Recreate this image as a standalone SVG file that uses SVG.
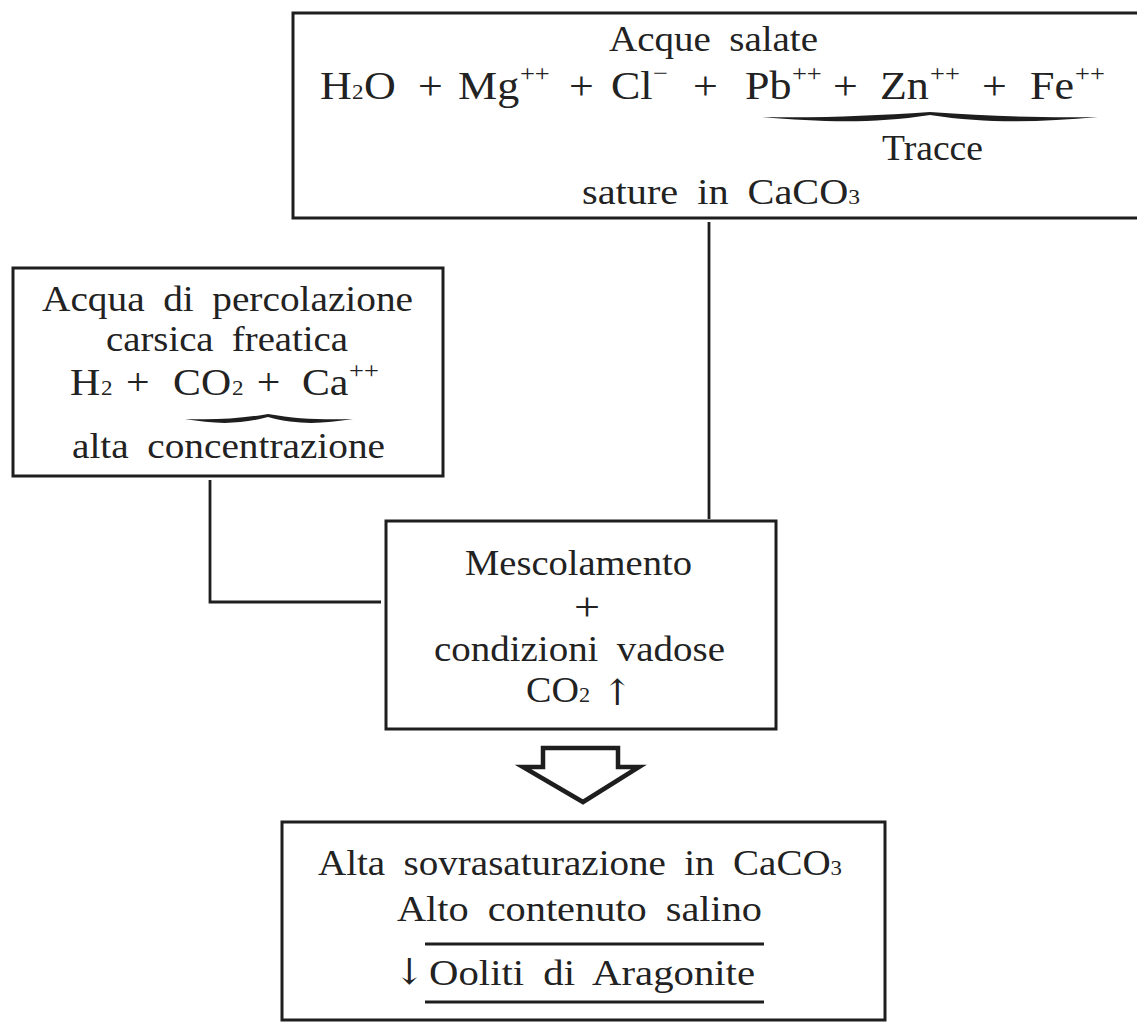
<svg xmlns="http://www.w3.org/2000/svg" width="1137" height="1023" viewBox="0 0 1137 1023">
<style>
.bg{fill:#ffffff}
.box{fill:none;stroke:#1e1e1e;stroke-width:3}
.ln{fill:none;stroke:#1e1e1e;stroke-width:2.8}
.t{font-family:"Liberation Serif","DejaVu Serif",serif;font-size:36px;fill:#222;word-spacing:8px}
.f{font-family:"Liberation Serif","DejaVu Serif",serif;font-size:40px;fill:#222}
.s{font-size:21px}
.p{font-size:24px}
.brace{fill:#1e1e1e;stroke:none}
.arr{fill:#fff;stroke:#1e1e1e;stroke-width:4.5;stroke-linejoin:miter}
.sym{font-family:"DejaVu Serif","Liberation Serif",serif;font-size:36px;fill:#222}
</style>
<rect class="bg" x="0" y="0" width="1137" height="1023"/>

<g id="top-box">
  <path class="box" d="M1137,13 H293 V218 H1137"/>
  <text class="t" x="609" y="51" textLength="209" lengthAdjust="spacingAndGlyphs">Acque salate</text>
  <text class="f" y="99" transform="scale(1.1 1)">
    <tspan x="290.9">H</tspan><tspan x="320" class="s">2</tspan><tspan x="330.9">O</tspan>
    <tspan x="380">+</tspan>
    <tspan x="416.4">Mg</tspan><tspan x="472.7" dy="-18" class="p">++</tspan>
    <tspan x="517.3" dy="18">+</tspan>
    <tspan x="555.5">Cl</tspan><tspan x="593.6" dy="-18" class="p">−</tspan>
    <tspan x="630" dy="18">+</tspan>
    <tspan x="677.3">Pb</tspan><tspan x="720" dy="-18" class="p">++</tspan>
    <tspan x="757.3" dy="18">+</tspan>
    <tspan x="800">Zn</tspan><tspan x="845.5" dy="-18" class="p">++</tspan>
    <tspan x="892.7" dy="18">+</tspan>
    <tspan x="936.4">Fe</tspan><tspan x="977.3" dy="-18" class="p">++</tspan>
  </text>
  <path class="brace" d="M762,117 C821,118 871,116 930,112 C989,116 1039,118 1098,117 C1039,122 989,124 930,115 C871,124 821,122 762,117 Z"/>
  <text class="t" x="882" y="160" textLength="101" lengthAdjust="spacingAndGlyphs">Tracce</text>
  <text class="t" x="582" y="204" textLength="278" lengthAdjust="spacingAndGlyphs">sature in CaCO<tspan class="s">3</tspan></text>
</g>

<g id="left-box">
  <rect class="box" x="13" y="268" width="430" height="208"/>
  <text class="t" x="42" y="311" textLength="371" lengthAdjust="spacingAndGlyphs">Acqua di percolazione</text>
  <text class="t" x="106" y="351" textLength="242" lengthAdjust="spacingAndGlyphs">carsica freatica</text>
  <text class="f" y="395" transform="scale(1.1 1)" style="font-size:38px">
    <tspan x="63.6">H</tspan><tspan x="91.8" class="s">2</tspan>
    <tspan x="114.5">+</tspan>
    <tspan x="157.3">CO</tspan><tspan x="210.9" class="s">2</tspan>
    <tspan x="233.5">+</tspan>
    <tspan x="274.5">Ca</tspan><tspan x="317.3" dy="-17" class="p">++</tspan>
  </text>
  <path class="brace" d="M185,419 C214,420 239,419 268,414 C297,419 322,420 353,419 C322,424 297,425 268,417 C239,425 214,424 185,419 Z"/>
  <text class="t" x="72" y="458" textLength="313" lengthAdjust="spacingAndGlyphs">alta concentrazione</text>
</g>

<g id="mix-box">
  <rect class="box" x="386" y="521" width="390" height="208"/>
  <text class="t" x="465" y="575" textLength="227" lengthAdjust="spacingAndGlyphs">Mescolamento</text>
  <text class="t" x="574" y="620" textLength="26" lengthAdjust="spacingAndGlyphs" style="font-size:40px">+</text>
  <text class="t" x="434" y="661" textLength="291" lengthAdjust="spacingAndGlyphs">condizioni vadose</text>
  <text class="t" x="526" y="702" textLength="64" lengthAdjust="spacingAndGlyphs">CO<tspan class="s">2</tspan></text>
  <text class="sym" x="617" y="705" text-anchor="middle">↑</text>
</g>

<g id="result-box">
  <rect class="box" x="282" y="822" width="603" height="198"/>
  <text class="t" x="318" y="875" textLength="524" lengthAdjust="spacingAndGlyphs">Alta sovrasaturazione in CaCO<tspan class="s">3</tspan></text>
  <text class="t" x="397" y="921" textLength="365" lengthAdjust="spacingAndGlyphs">Alto contenuto salino</text>
  <line class="ln" x1="425" y1="944" x2="764" y2="944"/>
  <text class="sym" x="409" y="984" text-anchor="middle">↓</text>
  <text class="t" x="429" y="985" textLength="326" lengthAdjust="spacingAndGlyphs">Ooliti di Aragonite</text>
  <line class="ln" x1="425" y1="1002" x2="764" y2="1002"/>
</g>

<g id="connectors">
  <line class="ln" x1="709" y1="222" x2="709" y2="519"/>
  <polyline class="ln" points="210,480 210,602 381,602"/>
  <path class="arr" d="M543,748 H618 V767 H639 L583,802 L523,767 H543 Z"/>
</g>
</svg>
